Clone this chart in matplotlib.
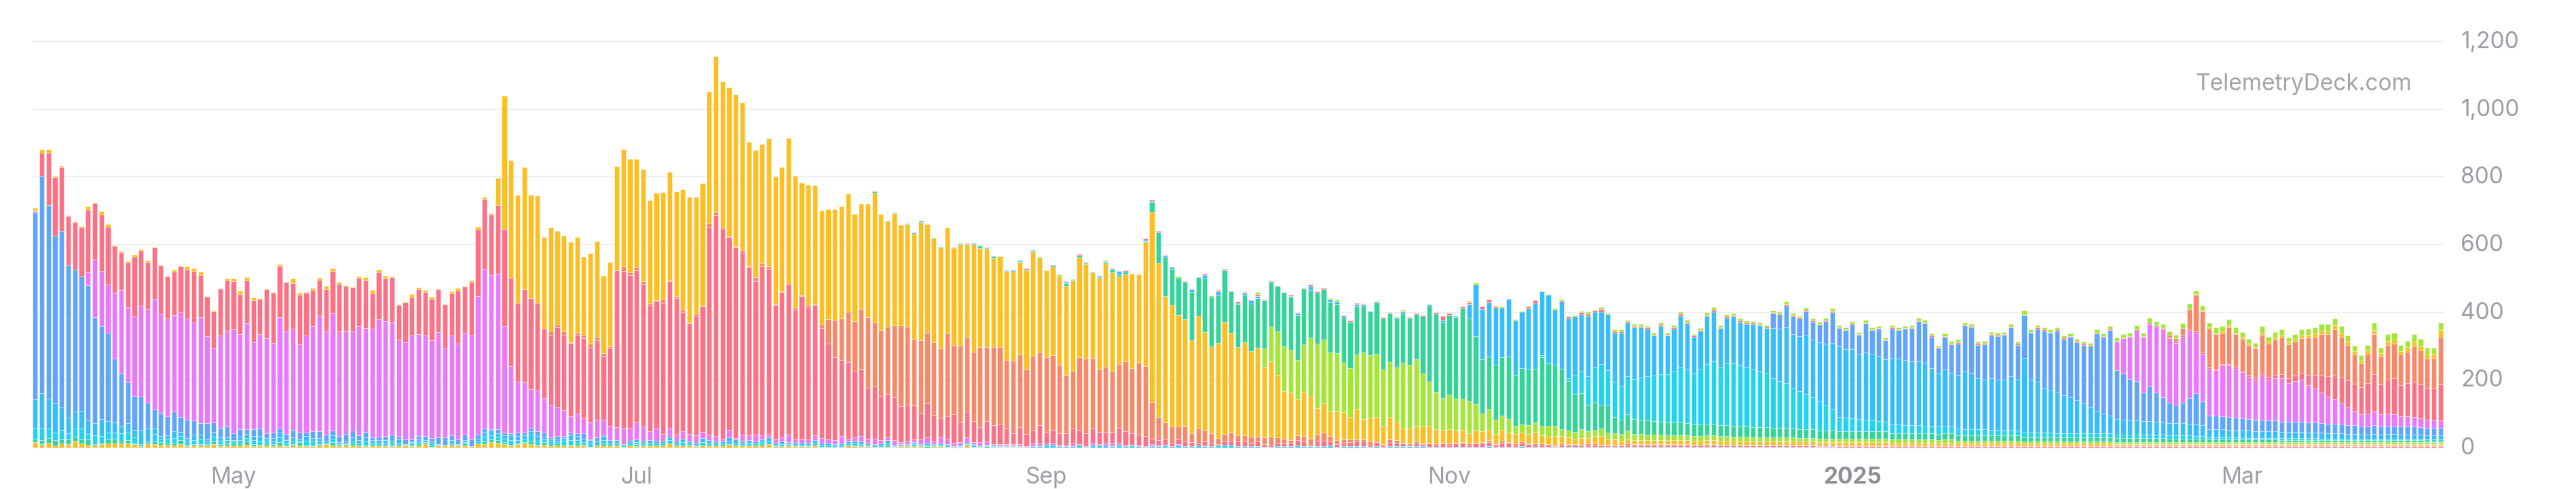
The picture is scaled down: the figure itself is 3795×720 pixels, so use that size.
import sys
import numpy as np
import matplotlib
matplotlib.use("Agg")
import matplotlib.pyplot as plt

N = 365  # daily bars, 2024-04-01 .. 2025-03-31

# ---------------- data (stack order bottom -> top) ----------------
a0 = ([17,10,14,7,13,11,21,12,9,6, 10,13,13,13,13,10,5,12,10,9, 8,7,10,5,7,6,6,10,5,7,
       6,6,8,4,6,6,4,6,4,6, 6,4,5,6,10,6,6,6,6,6, 4,6,6,6,4,6,6,4,6,12,
       2,6,6,8,6,6,4,12,10,16, 14,11,6,10,12,10,6,8,6,6, 6,6,6,6,2,6,6,6,6,3, 6]
      + [4,6,6,6,6,12,6,6,6,4, 6,6,7,6,10,6,6,6,6,6, 10,4,4,6,4,4,4,6,2,2,
         2,2,6,4,4,4,2,2,2,2, 4,4,4,4,0,4,4,2,1,2, 6,2,2,0,2,2,2,2,2,0]
      + [0] * 214)

e0 = ([10,13,14,16,12,14,12,13,16,5, 3,12,13,7,10,2,0,0,9,7, 7,5,12,4,4,5,5,9,5,5,
       8,6,10,6,2,6,6,10,4,4, 10,4,3,4,0,10,0,5,6,0, 4,0,0,0,4,0,0,4,6,0,
       4,0,0,0,0,6,0,0,8,8, 8,5,2,2,4,10,2,8,0,6, 1,2,6,2,0,0,6,0,0,0, 0]
      + [6,0,0,0,0,0,0,0,0,0, 0,0,0,0,0,0,0,0,0,6, 0,0,0,0,0,0,0,0,0,0,
         0,0,0,2,0,0,0,0,6,0, 0,0,0,0,4,0,0,0,0,0, 0,0,0,4,0,0,0,0,0,0]
      + [0] * 214)

c0 = ([31,35,29,22,27,17,23,32,15,26, 21,20,18,23,21,19,5,6,22,9, 11,16,12,10,11,14,7,14,10,10,
       4,10,11,12,13,8,9,14,7,10, 4,13,10,9,4,10,5,3,9,8, 11,8,8,8,6,9,2,4,6,5,
       6,2,1,7,2,5,0,7,14,12, 10,10,14,11,10,19,13,8,12,7, 11,14,11,9,10,0,11,8,8,4, 7]
      + [7,7,8,7,7,10,7,10,6,5, 11,8,5,6,10,9,7,8,6,6, 10,5,7,5,5,5,5,8,6,6,
         4,5,6,7,7,4,4,5,7,3, 3,3,6,3,5,3,4,4,2,3, 4,4,2,2,3,2,2,2,1,1]
      + [5,5,8,8,5,5,5,6,3,7, 6,6,5,8,5,7,5,3,5,5, 6,5,6,5,5,7,4,5,6,9,
         9,5,4,5,4,3,3,5,5,4, 7,4,4,5,4,7,3,4,4,5, 5,3,5,2,4,4,5,4,5,4,
         3,3,3,2,3,3,2,2,3,5, 2,3,3,2,4,2,2,2,2,2, 2,3,3,2,2,2,2,2,2,2, 2]
      + [2] * 31 + [1] * 92)

s0 = ([84,102,87,85,67,46,50,52,40,35, 51,34,30,22,28,21,42,38,15,9, 10,20,12,9,16,14,6,13,10,9,
       4,10,11,12,13,8,9,14,7,11, 4,13,11,9,4,10,5,4,9,8, 12,8,8,8,6,9,3,4,6,5,
       6,2,1,8,2,5,0,7,14,14, 10,10,14,11,10,10,13,8,6,7, 11,14,11,9,10,12,11,8,8,4, 7]
      + [7,7,8,7,7,10,7,10,7,5, 11,8,6,6,11,9,7,8,6,6, 10,5,7,5,5,5,5,8,6,6,
         4,5,7,7,7,4,5,6,7,4, 3,3,6,3,5,4,4,4,2,3, 4,4,2,2,3,2,2,2,2,1]
      + [0] * 214)

b1 = ([552,642,572,497,521,452,419,396,399,314, 275,260,189,153,120,101,98,76,57,68,
       56,59,44,54,43,33,48,28,28,31, 21,23,14,20,22,15,17,12,19,21, 20,10,19,20,20,14,18,22,20,14,
       16,9,11,12,18,9,13,8,10,12, 10,21,23,13,15,17,20,12,10,5, 12,8,6,10,8,10,14,12,6,8,
       5,8,8,16,2,12,4,0,0,0, 0]
      + [0] * 274)

f1 = ([4,0,0,0,0,0,0,0,39,169, 162,143,195,248,224,235,269,278,326,294, 290,285,310,300,289,313,257,219,274,284,
       306,280,314,258,279,281,265,330,304,300, 262,288,311,340,307,348,310,305,294,323,
       306,320,347,340,334,286,287,308,301,298, 289,310,262,296,283,301,308,410,471,455,
       460,316,199,151,149,113,121,103,96,87, 76,49,59,47,50,52,44,42,38,47, 38]
      + [50,42,26,36,20,24,19,22,21,22, 18,16,16,9,21,4,18,14,20,14, 8,10,14,22,10,10,10,14,14,10,
         13,22,8,10,16,14,16,10,8,14, 6,10,8,14,17,8,18,16,10,8, 16,6,10,11,3,5,4,4,5,2]
      + [10,10,4,7,4,2,7,5,2,8, 5,6,10,6,4,2,4,2,5,4, 3,0,5,0,0,0,3,0,0,0, 0,0,0,0,0]
      + [0] * 179)

r1 = ([2,69,154,172,188,144,141,146,185,167, 167,171,137,110,131,176,162,138,152,141,
       123,127,135,143,151,125,117,111,137,147, 142,118,125,124,104,143,147,149,142,133,
       145,126,107,107,123,123,139,132,129,141, 140,105,137,125,132,102,118,112,133,127,
       123,126,130,124,155,136,156,196,207,178, 202,286,260,232,274,269,259,204,208,235,
       223,216,233,234,220,235,187,228,463,464, 451]
      + [449,419,372,378,387,435,403,352,328,352, 371,615,652,619,570,563,537,498,453,498,
         489,398,428,445,383,424,390,386,325,284, 243,225,226,197,196,151,153,130,129,126,
         106,106,101,78,99,78,59,67,83,58, 76,62,44,59,55,59,46,32,50,36]
      + [38,52,35,38,34,35,47,41,37,42, 36,35,32,45,40,33,30,30,17,14, 16,10,13,16,12,5,12,10,5,12,
         12,14,15,7,15,8,6,10,10,10, 16,15,3,16,17,12,8,8,13,15, 15,6,11,5,11,11,7,5,10,6,
         9,6,9,7,9,10,7,10,10,12, 6,12,9,7,10,8,7,7,5,3, 7,5,5,4,7,7,4,4,4,4, 6]
      + [5] * 9 + [4,4,5,5] + [4] * 8 + [4] * 7 + [3] * 3 + [3] * 92)

o1 = ([0] * 78 + [11,8,11,2,6,10,14,10,10,6,0,13,8]
      + [10,10,8,2,13,2,6,8,2,8, 2,10,10,5,2,2,8,2,12,8, 8,2,2,0,7,2,8,2,11,72,
         112,123,149,147,179,209,189,195,199,212, 239,232,196,215,209,215,204,244,205,228,
         219,205,237,219,231,227,202,214,214,191]
      + [217,215,220,220,201,172,168,215,221,208, 184,192,178,185,206,192,212,206,107,67,
         49,48,41,42,25,45,34,27,18,20, 23,18,18,21,14,20,24,16,12,9, 14,15,20,18,23,16,12,13,8,5,
         5,10,4,3,10,7,3,3,4,3, 3,3,3,3,3,4,3,3,4,6, 3,5,5,3,5,5,4,4,4,2, 4,3,3,3,4,4,3,3,3,3, 4]
      + [3] * 46 + [2] + [3] * 12 + [2] * 14 + [2] * 50)

y1 = ([8,10,10,4,4,3,2,3,10,3, 10,7,2,3,5,6,4,5,2,2, 2,7,3,10,9,9,2,2,2,6,
       9,11,10,8,3,3,2,6,2,14, 6,2,6,7,10,9,6,3,2,6, 10,10,9,9,2,2,2,10,5,7,
       6,3,2,6,8,2,5,8,7,5, 81,394,347,319,361,305,316,272,306,276,
       282,298,282,231,266,284,229,249,307,346, 336]
      + [319,331,302,317,314,321,308,354,371,345, 361,389,460,430,440,451,437,368,375,352,
         378,376,366,432,389,333,355,350,336,325, 326,330,348,317,312,334,384,342,312,332,
         297,302,311,350,321,306,298,313,287,301, 274,317,292,289,263,269,263,264,273,293]
      + [310,279,256,260,263,263,266,294,278,252, 269,304,292,261,257,279,261,368,563,455,
         373,358,326,316,275,332,288,258,281,331, 295,260,275,251,262,206,222,184,140,139,
         106,130,123,78,87,74,86,79,65,90, 59,70,71,54,65,55,42,45,44,50,
         49,43,37,42,37,35,31,37,32,29, 30,32,28,28,25,25,34,24,21,28,
         21,19,16,20,16,22,25,15,15,12, 13]
      + [13,13,12,12,12,12,12,13,12,11, 11,12,12,11,11,11,11,10,10,10, 10]
      + [10,10,10,10,9,9,9,9,9,9] + [9] * 8 + [8] * 10 + [7] * 10 + [6] * 14 + [5] * 50)

l1 = ([0] * 186
      + [55,102,128,132,127,115,141,175,190,189, 172,170,147,144,159,197,184,186,167,163,
         160,194,188,197,156,130,109,95,103,92, 92,94,77,52,62,42,43,40,24,25,
         27,27,28,33,30,21,21,20,26,20, 18,23,20,18,19,25]
      + [18,17,17,16,16,15,15,16,15,14, 14,15,15,14,14,13,13,13,12,12, 12]
      + [12,12,12,11,11,11,11,10,10,10] + [10] * 8 + [9] * 10 + [7] * 10 + [6] * 14 + [5] * 50)

g1 = ([0] * 127
      + [3,0,0,2,0,2,0,0,0,2, 0,0,0,2,3,0,6,4,5,0, 3,0,2,2,0,2,0,4,0,9,
         2,6,4,2,4,4,10,6,8,0, 0,2,27,91,116,106,111,108,143,114,
         159,145,139,151,122,127,138,141,147,143, 130,134,160,155,134,164,141,151,147,148,
         145,132,138,143,139,130,152,151,144,147, 144,138,134,168,226,231,225,235,241,268,
         245,201,160,155,162,172,184,151,166,163, 158,202,184,179,178,146,112,106,76,79,
         70,81,49,42,49]
      + [44,42,41,40,39,38,37,37,36,34, 34,34,33,32,32,31,31,30,30,29, 29]
      + [28,27,27,26,26,25,25,24,24,23] + [22] * 8 + [18] * 10 + [15] * 10 + [12] * 14
      + [12] * 8 + [11] * 4 + [10] * 2
      + [8,8,8,8,8,8, 8,8,8,8,8, 7,7,7,7,7,7, 7,7,7,7, 6,6, 6,6, 6, 6, 6,6, 6,6,6,6, 5,5,5])

c1 = ([0] * 228
      + [5,0,0,0,8,53,66,86,105,120,104,103,100,112]
      + [118,125,130,134,140,142,150,160,158,150, 162,175,185,170,182,185,178,175,170,165,
         158,145,138,132,120,112,105,95,85,75, 65,42,40,38,36,34,32,30,28,27,
         26,25,24,24,23,22,21,21,20,20, 19,19,18,18,17,17,16,16,15,15,
         15,14,14,14,13,13,13,13,12,12, 12,12,12,11,11,10,10,10,10,10, 10,10,10,10,10,9,9]
      + [6,6,6,6,6,6, 5,5,5,5,5, 5,5,5,5,5,5, 4,4,4,4, 4,4, 3,3, 4, 3, 4,4, 3,3,3,3, 3,3,3])

s1 = ([0] * 127
      + [2,0,0,0,0,0,4,3,0,0, 2,0,2,0,0,4,2,0,0,0, 2,3,4,0,4,0,0,0,0,3,
         3,0,0,0,4,3,0,10,0,0, 0,4,5,0,4,7,0,0,7,0, 9,0,13,0,3,3,5,10,5,0,
         5,0,0,4,5,0,11,0,0,8, 7,7,0,7,3,0,3,0,0,1, 6,0,0,0,4,0,5,0,5,0,
         42,151,148,161,169,146,170,160,167,182, 193,190,203,164,198,177,175,166,179,164,
         155,164,146,158,158]
      + [153,149,141,119,142,114,128,154,137,110, 113,141,147,117,135,138,130,129,135,136,
         136,150,155,165,160,163,172,170,175,182, 195,210,202,204,191,198,195,192,184,196,
         194,191,189,189,185,171,157,167,156,159, 170,165,150,146,152,147,148,158,149,219,
         155,151,133,126,122,112,106,97,88,78, 66,58,53,45,44,42,42,40,40,38,
         38,36,35,35,34,33,32]
      + [25,24,24,23,22,22, 21,20,20,19,19, 18,18,18,18,17,17, 17,16,16,16, 15,15, 14,14, 15, 14,
         14,14, 13,13,13,13, 12,12,12])

b2 = ([0] * 263
      + [43,42,65,52,52,72,53,52,66,90, 53,57,74,58,87,72,81,57,87,85,
         93,98,118,117,93,74,97,87,93,136, 136,100,106,127,130,133,145,104,127,139,
         157,169,169,181,167,178,172,174,180,229, 226,253,144,135,122,116,84,102,87,73,
         60,55,60,75,92,70,
         40,40,38,37,36,35, 34,33,33,32,32, 31,30,30,30,29,29, 28,28,27,27, 26,25, 24,24, 25, 24,
         25,25, 24,24,24,23, 22,22,22])

f2 = ([0] * 315
      + [85,105,125,150,165,185,195,200,190,183,196,200,180,140]
      + [138,135,150,152,145,135, 125,118,130,120,125, 128,115,120,125,110,100, 90,80,72,62,
         52,42, 35,38, 40, 35, 35,34, 30,30,28,26, 24,22,22])

r2 = ([0] * 141
      + [3,0,0,2,0,0,0,2,0,3, 0,0,0,2,0,3,0,4,2,0, 0,0,3,0,3,0,0,3,3,5,
         3,0,0,5,3,0,5,0,3,4, 0,4,4,2,6,3,2,0,1,3, 3,2,5,3,5,0,3,2,3,3,
         2,0,2,3,2,0,3,2,3,5, 0,4,12,5,0,5,5,0,8,7, 3,0,0,0,0,5,10,0,0,0,
         4,5,0,7,5,5,7,0,4,4, 5]
      + [4,3,4,3,4,3,4,5,3,3, 4,5,6,3,4,4,3,4,3,3, 3]
      + [3,3,4,3,3,4,3,3,3,4] + [3] * 42
      + [3,3,3,4,3,4,4,4,3,3,4,4,4,4]
      + [4,4,4,4,5,5, 6,6,8,8,10, 12,14,16,20,30,40, 50,60,70,75, 80,80, 80,90, 110, 88,
         100,105, 92,98,105,100, 92,95,106])

o2 = ([0] * 323 + [8,10,22,60,108,122]
      + [114,103,92,110,97,95, 89,87,113,100,105, 108,101,101,103,111,114, 123,124,138,121,
         104,86, 70,85, 120, 82, 103,104, 90,93,105,99, 89,88,142])

y2 = ([0] * 327 + [2,3]
      + [4,4,5,5,5,5, 4,4,6,5,5, 6,5,6,7,8,9, 10,10,11,11, 10,10, 9,10, 12, 10, 12,12,
         11,13,14,14, 13,13,19])

l2 = ([0] * 155
      + [4,0,0,0,0,0,0,3,0,0, 0,0,0,0,0,0,0,0,3,0, 0,0,0,4,0,0,0,0,2,0,
         7,0,0,0,0,0,0,0,0,0, 0,4,3,0,0,0,0,0,0,0, 3,0,3,0,0,0,0,1,0,3,
         0,0,5,6,0,3,3,4,1,5, 2,3,3,2,2,3,4,3,5,4, 7,1,7,4,6,6,3]
      + [5,6,5,6,7,5,6,7,6,5, 6,7,8,6,7,6,6,6,5,6, 5]
      + [6,6,7,6,5,7,6,5,6,7]
      + [6,6,7,6,7,6,6,6,7,6, 6,6,7,7,6,6,7,8,8,6, 6,7,7,7,7,6,7,6,12,7,
         7,7,7,7,6,7,7,6,7,9, 8,8]
      + [10,10,9,12,10,14,12,12,10,10,14,15,10,14]
      + [15,16,17,18,16,15, 14,13,20,15,17, 18,15,16,18,18,19, 20,20,21,20, 18,17, 16,17, 22, 16,
         20,20, 18,20,22,22, 18,18,23])

month_labels = ["May", "Jul", "Sep", "Nov", "2025", "Mar"]
month_days = [30, 91, 153, 214, 275, 334]
y_ticks = [0, 200, 400, 600, 800, 1000, 1200]

# ---------------- colours ----------------
AMBER, EMERALD, CYAN, SKY = "#fbbf24", "#34d399", "#22d3ee", "#38bdf8"
BLUE, FUCHSIA, ROSE, ORANGE, LIME = "#60a5fa", "#e879f9", "#fb7185", "#f6896a", "#a3e635"

layers = [
    (a0, AMBER), (e0, EMERALD), (c0, CYAN), (s0, SKY), (b1, BLUE), (f1, FUCHSIA),
    (r1, ROSE), (o1, ORANGE), (y1, AMBER), (l1, LIME), (g1, EMERALD), (c1, CYAN),
    (s1, SKY), (b2, BLUE), (f2, FUCHSIA), (r2, ROSE), (o2, ORANGE), (y2, AMBER), (l2, LIME),
]


def fit(v, name):
    v = list(v)
    if len(v) != N:
        print(f"series {name} has length {len(v)}", file=sys.stderr)
    return np.array((v + [0] * N)[:N], dtype=float)


W, H = 3795, 720
fig = plt.figure(figsize=(W / 100, H / 100), dpi=100)
fig.patch.set_facecolor("white")

PX_PER_UNIT = 598 / 1200.0
ax_bottom_px, ax_top_px = 663, 55
ax = fig.add_axes([48 / W, 1 - ax_bottom_px / H, 3553 / W, (ax_bottom_px - ax_top_px) / H])
ax.set_xlim(-0.4, 364.6)
ax.set_ylim(-(ax_bottom_px - 659) / PX_PER_UNIT, (659 - ax_top_px) / PX_PER_UNIT)

x = np.arange(N)
bottom = np.zeros(N)
for k, (vals, col) in enumerate(layers):
    v = fit(vals, k)
    m = v > 0
    ax.bar(x[m], v[m], bottom=bottom[m], width=0.74, color=col,
           edgecolor=(1, 1, 1, 0.55), linewidth=0.5, zorder=3)
    bottom += v

for t in y_ticks:
    ax.axhline(t, color="#efeff1", lw=1.6, zorder=1)

for sp in ax.spines.values():
    sp.set_visible(False)
ax.set_xticks([])
ax.set_yticks([])
ax.patch.set_alpha(0)

FONT = ["Inter", "DejaVu Sans"]
GRAY = "#9d9da6"

# right-side value labels
for t in y_ticks:
    ypx = 659 - t * PX_PER_UNIT + 10
    fig.text(3625 / W, 1 - ypx / H, f"{t:,}", ha="left", va="baseline",
             fontsize=24, color=GRAY, family=FONT)

# month labels
for lab, d in zip(month_labels, month_days):
    xpx = 48 + (d + 0.4) * (3553 / 365.0)
    fig.text(xpx / W, 1 - 712 / H, lab, ha="center", va="baseline", fontsize=24,
             color="#8f8f98" if lab == "2025" else GRAY,
             fontweight="bold" if lab == "2025" else "normal", family=FONT)

# watermark
fig.text(3553 / W, 1 - 133 / H, "TelemetryDeck.com", ha="right", va="baseline",
         fontsize=24, color="#a3a3ab", family=FONT)

fig.savefig("out.png", dpi=100, facecolor="white")
